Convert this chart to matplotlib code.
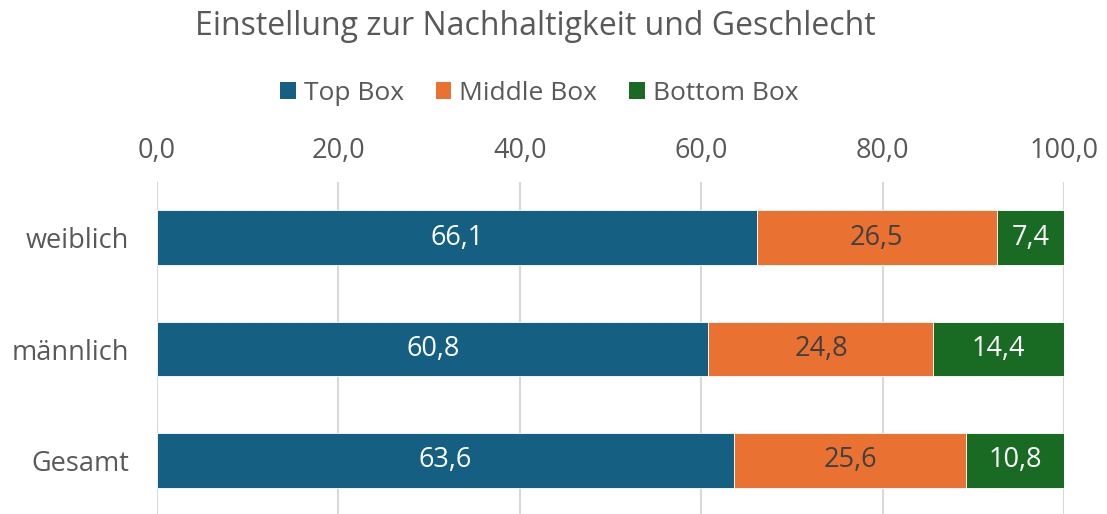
import matplotlib.pyplot as plt
from matplotlib.patches import Patch

plt.rcParams['font.family'] = ['Open Sans', 'DejaVu Sans']

categories = ['weiblich', 'männlich', 'Gesamt']
top_box = [66.1, 60.8, 63.6]
middle_box = [26.5, 24.8, 25.6]
bottom_box = [7.4, 14.4, 10.8]
series_names = ['Top Box', 'Middle Box', 'Bottom Box']
colors = ['#155F82', '#E97132', '#196B24']
label_colors = ['white', '#404040', 'white']
grey = '#595959'

fig = plt.figure(figsize=(11.07, 5.14), dpi=100)
ax = fig.add_axes([0.1418, -0.004, 0.8194, 0.65])

y = list(range(len(categories)))
left = [0.0] * len(categories)
for vals, col, lc in zip([top_box, middle_box, bottom_box], colors, label_colors):
    bars = ax.barh(y, vals, left=left, height=0.49, color=col, edgecolor='white', linewidth=0.6, zorder=3)
    for b, v in zip(bars, vals):
        ax.text(b.get_x() + b.get_width() / 2, b.get_y() + b.get_height() / 2,
                f'{v:.1f}'.replace('.', ','), ha='center', va='center',
                color=lc, fontsize=19.5, zorder=4)
    left = [l + v for l, v in zip(left, vals)]

ax.set_xlim(0, 100)
ax.set_ylim(2.5, -0.5)
ax.set_xticks([0, 20, 40, 60, 80, 100])
ax.set_xticklabels([f'{t:.1f}'.replace('.', ',') for t in [0, 20, 40, 60, 80, 100]])
ax.xaxis.tick_top()
ax.set_yticks(y)
ax.set_yticklabels(categories)
ax.tick_params(axis='both', length=0, labelsize=19.5, labelcolor=grey)
ax.tick_params(axis='x', pad=12)
ax.tick_params(axis='y', pad=20)
ax.grid(axis='x', color='#D9D9D9', linewidth=1.5, zorder=0)
for s in ax.spines.values():
    s.set_visible(False)

fig.suptitle('Einstellung zur Nachhaltigkeit und Geschlecht', x=0.484, y=0.98,
             fontsize=23, color=grey)
handles = [Patch(facecolor=c) for c in colors]
fig.legend(handles, series_names, loc='center', bbox_to_anchor=(0.487, 0.818), ncol=3,
           frameon=False, fontsize=19, labelcolor=grey, handlelength=0.6,
           handleheight=0.6, handletextpad=0.3, columnspacing=1.2)

fig.savefig('out.png', dpi=100)
